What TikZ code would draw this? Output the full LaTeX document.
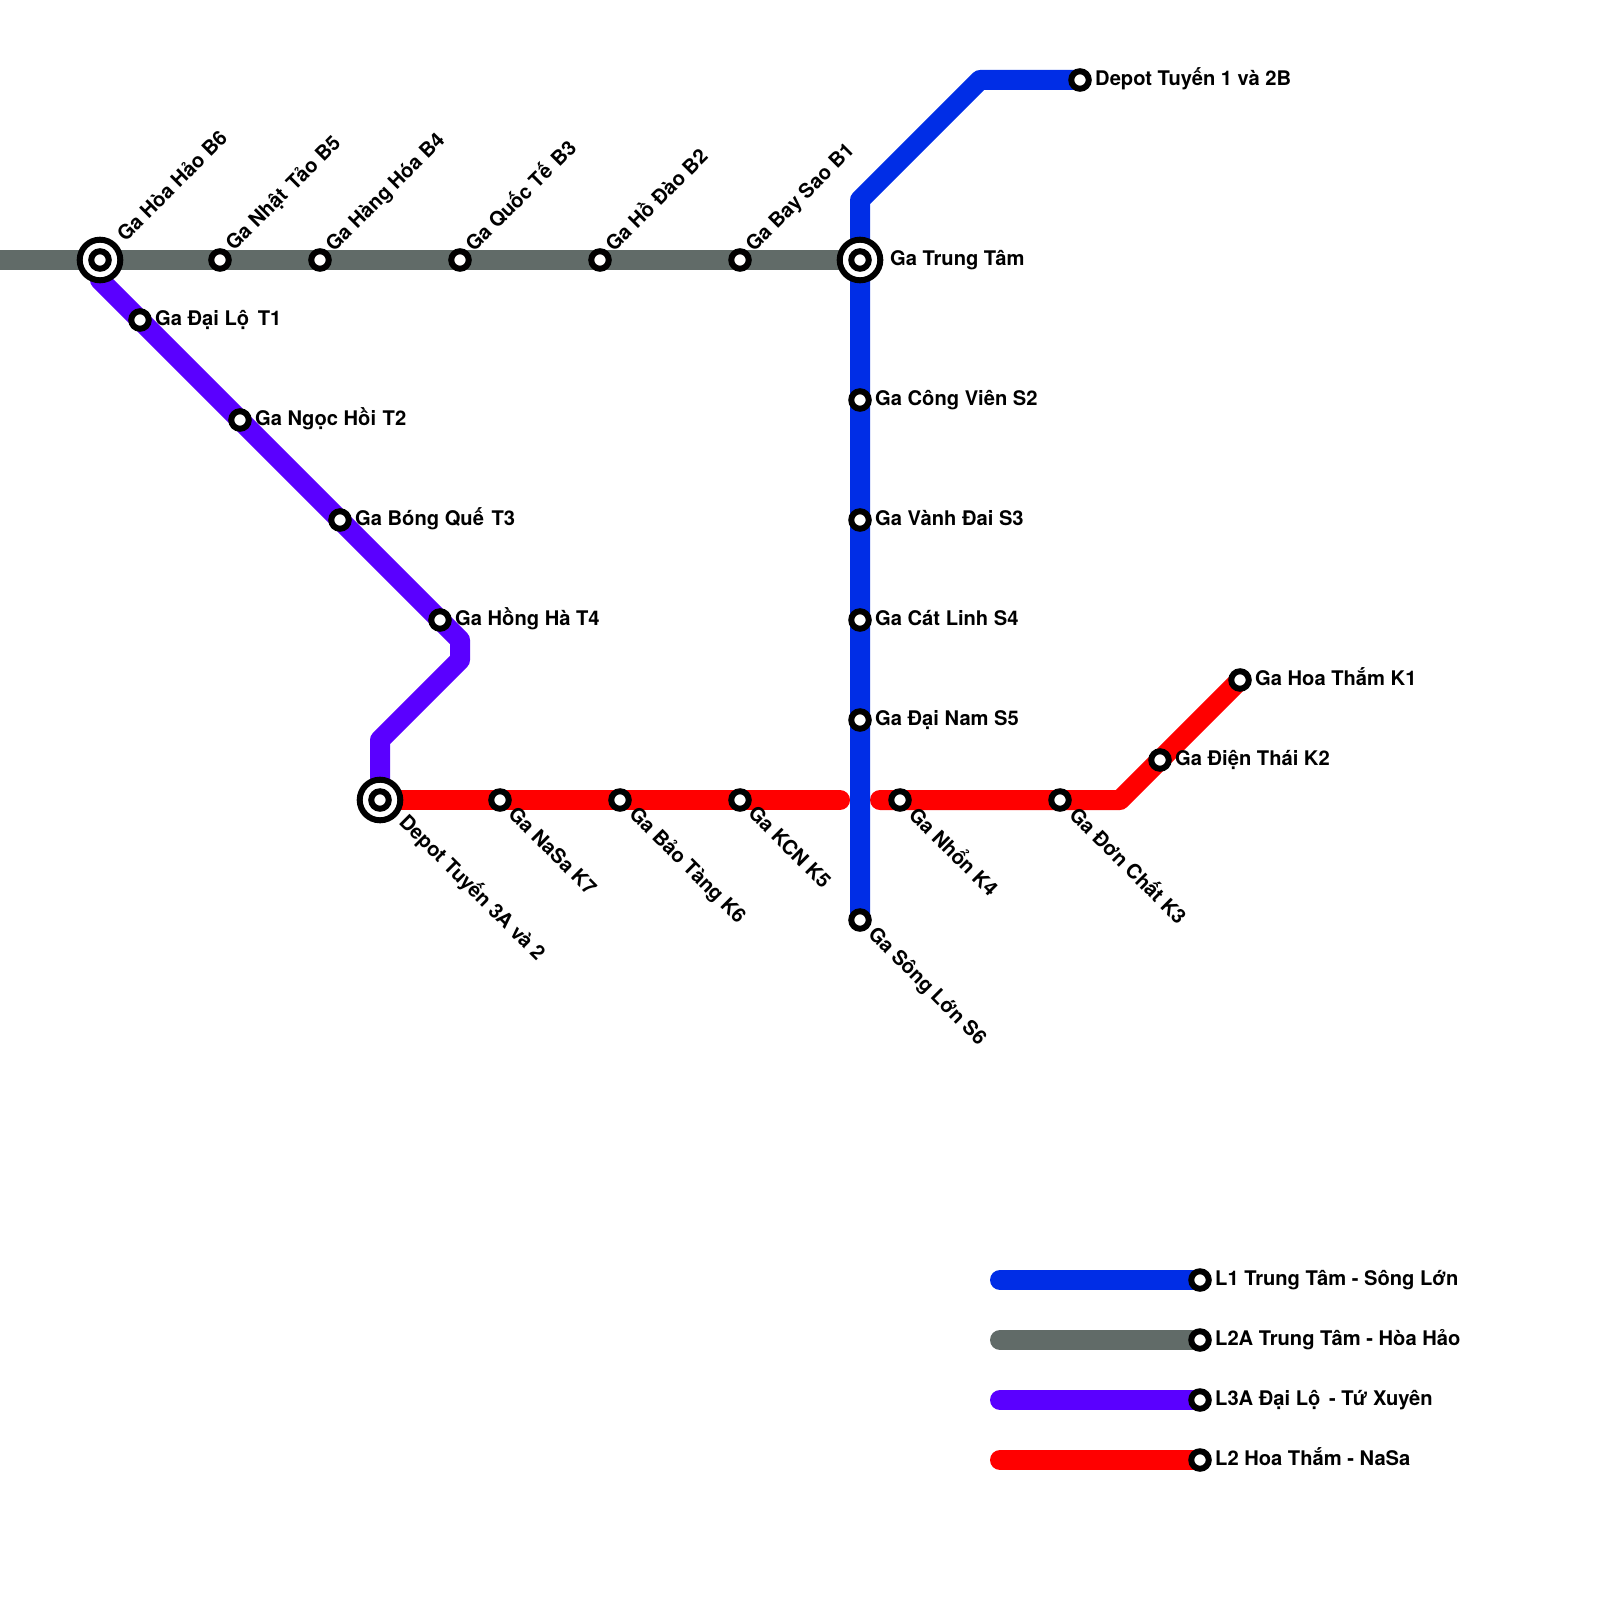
\documentclass[tikz,border=0pt]{standalone}
\usepackage{fontspec}
\setmainfont{TeX Gyre Heros}
\usetikzlibrary{backgrounds}
\definecolor{lineblue}{RGB}{0,45,230}
\definecolor{linegrey}{RGB}{97,107,104}
\definecolor{linepurple}{RGB}{90,0,255}
\definecolor{linered}{RGB}{255,0,0}
\tikzset{
  station/.style={circle, draw=black, fill=white, line width=6pt,
    inner sep=0pt, minimum size=17.5pt},
  hub/.style={circle, draw=black, fill=white, line width=6pt,
    inner sep=0pt, minimum size=40.6pt},
  railway/.style={line width=20pt, line cap=round, line join=round},
  every node/.style={font=\fontsize{20.15}{24}\selectfont\bfseries},
  lbl/.style={anchor=base west, inner sep=0pt},
  lblup/.style={lbl, rotate=45},
  lbldown/.style={lbl, rotate=-45}
}
\begin{document}
\begin{tikzpicture}[x=1pt, y=-1pt]
\useasboundingbox (0,0) rectangle (1600,1600);
%
% ---- Interchanges ----
\node[hub] (hubB6) at (100,260) {};
\node[hub] (hubTT) at (860,260) {};
\node[hub] (hubK7) at (380,800) {};
\node[station] (B6) at (100,260) {};
\node[station] (TT) at (860,260) {};
\node[station] (DP3) at (380,800) {};
%
% ---- Stations ----
\node[station] (B5) at (220,260) {};
\node[station] (B4) at (320,260) {};
\node[station] (B3) at (460,260) {};
\node[station] (B2) at (600,260) {};
\node[station] (B1) at (740,260) {};
\node[station] (T1) at (140,320) {};
\node[station] (T2) at (240,420) {};
\node[station] (T3) at (340,520) {};
\node[station] (T4) at (440,620) {};
\node[station] (K7) at (500,800) {};
\node[station] (K6) at (620,800) {};
\node[station] (K5) at (740,800) {};
\node[station] (K4) at (900,800) {};
\node[station] (K3) at (1060,800) {};
\node[station] (K2) at (1160,760) {};
\node[station] (K1) at (1240,680) {};
\node[station] (DP1) at (1080,80) {};
\node[station] (S2) at (860,400) {};
\node[station] (S3) at (860,520) {};
\node[station] (S4) at (860,620) {};
\node[station] (S5) at (860,720) {};
\node[station] (S6) at (860,920) {};
%
% ---- Legend stations ----
\node[station] (L1) at (1200,1280) {};
\node[station] (L2A) at (1200,1340) {};
\node[station] (L3A) at (1200,1400) {};
\node[station] (L2) at (1200,1460) {};
%
% ---- Bends and free ends ----
\coordinate (blueA) at (860,200);
\coordinate (blueB) at (980,80);
\coordinate (greyEnd) at (0,260);
\coordinate (purpleHub) at (100,280);
\coordinate (purpleA) at (460,640);
\coordinate (purpleB) at (460,660);
\coordinate (purpleC) at (380,740);
\coordinate (redEndL) at (840,800);
\coordinate (redEndR) at (880,800);
\coordinate (redBend) at (1120,800);
\coordinate (legBlue) at (1000,1280);
\coordinate (legGrey) at (1000,1340);
\coordinate (legPurple) at (1000,1400);
\coordinate (legRed) at (1000,1460);
%
% ---- Lines ----
\begin{pgfonlayer}{background}
\draw[railway, linepurple] (B6.center) -- (purpleHub) -- (T1.center) -- (T2.center) -- (T3.center)
  -- (T4.center) -- (purpleA) -- (purpleB) -- (purpleC) -- (DP3.center);
\draw[railway, linered] (DP3.center) -- (K7.center) -- (K6.center) -- (K5.center) -- (redEndL);
\draw[railway, linered] (redEndR) -- (K4.center) -- (K3.center) -- (redBend)
  -- (K2.center) -- (K1.center);
\draw[railway, lineblue] (DP1.center) -- (blueB) -- (blueA) -- (TT.center) -- (S2.center)
  -- (S3.center) -- (S4.center) -- (S5.center) -- (S6.center);
\draw[railway, linegrey] (greyEnd) -- (B6.center) -- (B5.center) -- (B4.center) -- (B3.center)
  -- (B2.center) -- (B1.center) -- (TT.center);
\draw[railway, lineblue] (legBlue) -- (L1.center);
\draw[railway, linegrey] (legGrey) -- (L2A.center);
\draw[railway, linepurple] (legPurple) -- (L3A.center);
\draw[railway, linered] (legRed) -- (L2.center);
\end{pgfonlayer}
%
% ---- Labels ----
\node[lblup] (lblB6) at (125.5,242.5) {Ga Hòa Hảo B6};
\node[lblup] (lblB5) at (234,252) {Ga Nhật\kern3pt{} Tảo B5};
\node[lblup] (lblB4) at (334,253) {Ga Hàng Hóa B4};
\node[lblup] (lblB3) at (474,253) {Ga Quốc Tế\kern2pt{} B3};
\node[lblup] (lblB2) at (614,253) {Ga Hồ Đào B2};
\node[lblup] (lblB1) at (754,253) {Ga Bay Sao B1};
\node[lbl] (lblTT) at (890,265) {Ga Trung Tâm};
\node[lbl] (lblDP1) at (1095,85.5) {Depot Tuyến 1 và 2B};
\node[lbl] (lblT1) at (155,325) {Ga Đại Lộ\kern3pt{} T1};
\node[lbl] (lblT2) at (255,425) {Ga Ngọc Hồi\kern1pt{} T2};
\node[lbl] (lblT3) at (355,525) {Ga Bóng Quế\kern2pt{} T3};
\node[lbl] (lblT4) at (455,625) {Ga Hồng Hà T4};
\node[lbl] (lblS2) at (875,405) {Ga Công Viên S2};
\node[lbl] (lblS3) at (875,525) {Ga Vành Đai S3};
\node[lbl] (lblS4) at (875,625) {Ga Cát Linh S4};
\node[lbl] (lblS5) at (875,725) {Ga Đại Nam S5};
\node[lbl] (lblK2) at (1175,765) {Ga Điện Thái K2};
\node[lbl] (lblK1) at (1255,685) {Ga Hoa Thắm K1};
\node[lbldown] (lblDP3) at (398,823) {Depot Tuyến 3A và 2};
\node[lbldown] (lblK7) at (507,815) {Ga NaSa K7};
\node[lbldown] (lblK6) at (628,815) {Ga Bảo Tàng K6};
\node[lbldown] (lblK5) at (747,814.5) {Ga KCN K5};
\node[lbldown] (lblK4) at (907.5,816) {Ga Nhổn K4};
\node[lbldown] (lblK3) at (1068,816) {Ga Đơn Chất K3};
\node[lbldown] (lblS6) at (867,935) {Ga Sông Lớn S6};
%
% ---- Legend labels ----
\node[lbl] (lblL1) at (1215,1285) {L1 Trung Tâm - Sông Lớn};
\node[lbl] (lblL2A) at (1215,1345) {L2A Trung Tâm - Hòa Hảo};
\node[lbl] (lblL3A) at (1215,1405) {L3A Đại Lộ\kern3pt{} - Tứ Xuyên};
\node[lbl] (lblL2) at (1215,1465) {L2 Hoa Thắm - NaSa};
\end{tikzpicture}
\end{document}
